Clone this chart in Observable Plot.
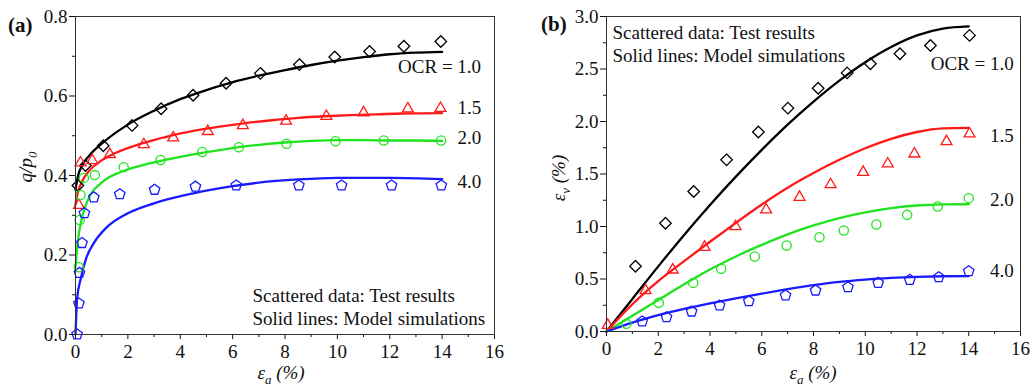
<!DOCTYPE html>
<html>
<head>
<meta charset="utf-8">
<script src="https://cdn.jsdelivr.net/npm/d3@7"></script>
<script src="https://cdn.jsdelivr.net/npm/@observablehq/plot@0.6"></script>
<style>
  body { margin: 0; background: #fff; font-family: "Liberation Serif", "Times New Roman", serif; }
  #wrap { display: flex; width: 1033px; height: 391px; overflow: hidden; }
</style>
</head>
<body>
<div id="wrap"></div>
<script>
// ---------- shared ticks ----------
const strainTicks = [0, 2, 4, 6, 8, 10, 12, 14, 16];
const strainMinor = [1, 3, 5, 7, 9, 11, 13, 15];
const qTicks = [0, 0.2, 0.4, 0.6, 0.8];
const qMinor = [0.1, 0.3, 0.5, 0.7];
const evTicks = [0, 0.5, 1.0, 1.5, 2.0, 2.5, 3.0];
const evMinor = [0.25, 0.75, 1.25, 1.75, 2.25, 2.75];
const ocrLabels = ["OCR = 1.0", "1.5", "2.0", "4.0"];

// ---------- (a) q/p0 vs axial strain: test results ----------
const aTest10X = [0.09, 0.38, 1.06, 2.16, 3.27, 4.49, 5.75, 7.06, 8.55, 9.9, 11.23, 12.54, 13.95];
const aTest10Y = [0.375, 0.425, 0.475, 0.526, 0.568, 0.602, 0.632, 0.657, 0.679, 0.698, 0.712, 0.725, 0.737];
const aTest15X = [0.13, 0.19, 0.64, 1.31, 2.61, 3.73, 5.05, 6.39, 8.04, 9.58, 11.0, 12.69, 13.94];
const aTest15Y = [0.325, 0.432, 0.438, 0.453, 0.478, 0.495, 0.511, 0.526, 0.537, 0.549, 0.558, 0.568, 0.569];
const aTest20X = [0.13, 0.16, 0.19, 0.32, 0.74, 1.84, 3.25, 4.84, 6.24, 8.06, 9.93, 11.77, 13.96];
const aTest20Y = [0.169, 0.288, 0.351, 0.394, 0.401, 0.421, 0.439, 0.459, 0.471, 0.48, 0.486, 0.488, 0.488];
const aTest40X = [0.06, 0.13, 0.15, 0.25, 0.34, 0.7, 1.69, 3.02, 4.58, 6.14, 8.53, 10.16, 12.07, 13.97];
const aTest40Y = [0.0, 0.078, 0.155, 0.23, 0.305, 0.345, 0.353, 0.364, 0.372, 0.375, 0.375, 0.375, 0.375, 0.375];

// ---------- (a) model simulations ----------
const aModel10X = [0, 0.1, 0.25, 0.5, 1, 2, 3, 4, 5, 6, 7, 8, 9, 10, 11, 12, 13, 14];
const aModel10Y = [0.365, 0.4, 0.425, 0.448, 0.48, 0.528, 0.563, 0.592, 0.615, 0.635, 0.651, 0.665, 0.678, 0.689, 0.698, 0.705, 0.709, 0.711];
const aModel15X = [0, 0.1, 0.25, 0.5, 1, 1.5, 2.5, 3.5, 4.5, 5.5, 6.5, 7.5, 8.5, 9.5, 10.5, 11.5, 12.5, 14];
const aModel15Y = [0.327, 0.36, 0.385, 0.41, 0.438, 0.456, 0.48, 0.498, 0.512, 0.523, 0.532, 0.539, 0.545, 0.549, 0.552, 0.554, 0.556, 0.557];
const aModel20X = [0, 0.1, 0.2, 0.45, 1, 1.7, 2.5, 3, 4, 5, 6, 7, 8, 9, 10, 11, 12, 13, 14];
const aModel20Y = [0.17, 0.24, 0.28, 0.335, 0.382, 0.408, 0.425, 0.433, 0.447, 0.459, 0.469, 0.477, 0.483, 0.487, 0.489, 0.489, 0.488, 0.488, 0.487];
const aModel40X = [0, 0.03, 0.06, 0.2, 0.4, 0.7, 1.2, 2, 3, 4.5, 6, 7, 8.5, 10, 12, 14];
const aModel40Y = [0, 0.05, 0.09, 0.14, 0.19, 0.23, 0.27, 0.305, 0.33, 0.355, 0.373, 0.382, 0.39, 0.394, 0.394, 0.391];

// ---------- (b) volumetric strain vs axial strain: test results ----------
const bTest10X = [1.12, 2.28, 3.37, 4.64, 5.87, 7.01, 8.18, 9.3, 10.2, 11.34, 12.52, 14.03];
const bTest10Y = [0.622, 1.031, 1.333, 1.635, 1.9, 2.127, 2.317, 2.463, 2.55, 2.645, 2.724, 2.82];
const bTest15X = [0.05, 1.51, 2.56, 3.79, 4.99, 6.17, 7.46, 8.66, 9.92, 10.87, 11.9, 13.14, 14.03];
const bTest15Y = [0.06, 0.39, 0.587, 0.803, 1.0, 1.159, 1.279, 1.4, 1.517, 1.597, 1.692, 1.81, 1.883];
const bTest20X = [0.77, 2.02, 3.35, 4.43, 5.73, 6.96, 8.23, 9.17, 10.43, 11.62, 12.8, 14.0];
const bTest20Y = [0.073, 0.273, 0.463, 0.597, 0.714, 0.819, 0.898, 0.962, 1.019, 1.111, 1.19, 1.27];
const bTest40X = [1.38, 2.32, 3.29, 4.37, 5.5, 6.92, 8.08, 9.33, 10.5, 11.72, 12.84, 14.0];
const bTest40Y = [0.095, 0.136, 0.19, 0.248, 0.289, 0.343, 0.39, 0.422, 0.463, 0.492, 0.517, 0.574];

// ---------- (b) model simulations ----------
const bModelX = [0, 1, 2, 3, 4, 5, 6, 7, 8, 9, 10, 11, 12, 13, 14];
const bModel10Y = [0, 0.31, 0.62, 0.92, 1.205, 1.475, 1.73, 1.97, 2.19, 2.39, 2.565, 2.71, 2.82, 2.885, 2.905];
const bModel15Y = [0, 0.26, 0.48, 0.67, 0.855, 1.035, 1.21, 1.37, 1.51, 1.635, 1.745, 1.835, 1.9, 1.935, 1.94];
const bModel20Y = [0, 0.15, 0.3, 0.45, 0.59, 0.715, 0.825, 0.925, 1.01, 1.08, 1.135, 1.175, 1.2, 1.21, 1.212];
const bModel40Y = [0, 0.085, 0.155, 0.215, 0.268, 0.316, 0.361, 0.403, 0.441, 0.473, 0.495, 0.51, 0.52, 0.526, 0.528];

// ---------- styling ----------
const serif = "'Liberation Serif', 'Times New Roman', serif";
const seriesColors = ["#000000", "#ff1a1a", "#1ee31e", "#1a1aff"];
// label nudges relative to the end of each model curve: [dx, dy]
const aLabelNudge = [[39, 15], [39, -5], [39, -3], [39, 3]];
const bLabelNudge = [[45, 37], [45, 8], [45, -4], [45, -5]];

// open pentagon, point up
const pentagon = {
  draw(context, size) {
    const r = Math.sqrt(size) * 0.62;
    for (let i = 0; i < 5; ++i) {
      const a = -Math.PI / 2 + (i * 2 * Math.PI) / 5;
      const px = r * Math.cos(a), py = r * Math.sin(a);
      if (i === 0) context.moveTo(px, py); else context.lineTo(px, py);
    }
    context.closePath();
  }
};
const symbols = ["diamond2", "triangle2", "circle", pentagon];
const dotRadius = [5.2, 5.2, 4.6, 5];

const rows = (xs, ys, k) => xs.map((x, i) => ({x, y: ys[i], k}));

function panel({width, margin, yDomain, yTicks, yMinor, tests, models, nudge, note}) {
  const marks = [];
  models.forEach(([xs, ys], k) => {
    marks.push(Plot.line(rows(xs, ys, k), {
      x: "x", y: "y", stroke: seriesColors[k], strokeWidth: 2.3, curve: "monotone-x"
    }));
  });
  tests.forEach(([xs, ys], k) => {
    marks.push(Plot.dot(rows(xs, ys, k), {
      x: "x", y: "y", symbol: symbols[k], r: dotRadius[k],
      stroke: seriesColors[k], strokeWidth: 1.3, fill: "none"
    }));
  });
  // OCR labels next to the end of each model curve
  models.forEach(([xs, ys], k) => {
    const end = [{x: xs[xs.length - 1], y: ys[ys.length - 1]}];
    marks.push(Plot.text(end, {
      x: "x", y: "y", text: () => ocrLabels[k], textAnchor: "end",
      dx: nudge[k][0], dy: nudge[k][1], fontSize: 19, fill: "#111"
    }));
  });
  marks.push(Plot.text([note.text], {
    frameAnchor: note.anchor, dx: note.dx, dy: note.dy, textAnchor: "start",
    lineAnchor: "middle", lineHeight: 1.2, fontSize: 19, fill: "#111"
  }));
  marks.push(Plot.axisX(strainTicks, {tickSize: 5, tickPadding: 5, label: null, tickFormat: d => String(d), fontSize: 19}));
  marks.push(Plot.axisX(strainMinor, {tickSize: 3, label: null, tickFormat: () => ""}));
  marks.push(Plot.axisY(yTicks, {tickSize: 6, tickPadding: 2, label: null, tickFormat: d3.format(".1f"), fontSize: 19}));
  marks.push(Plot.axisY(yMinor, {tickSize: 3, label: null, tickFormat: () => ""}));
  marks.push(Plot.frame({stroke: "#333", strokeWidth: 1}));

  return Plot.plot({
    width, height: 391,
    marginLeft: margin[0], marginRight: margin[1], marginTop: margin[2], marginBottom: margin[3],
    x: {domain: [0, 16]},
    y: {domain: yDomain},
    style: {fontFamily: serif, fontSize: "19px", background: "#fff", color: "#111", overflow: "visible"},
    marks
  });
}

// axis titles with italic symbols and subscripts
function addTitle(svg, {x, y, rotate = 0, base, sub, tail}) {
  const t = d3.select(svg).append("text")
    .attr("transform", `translate(${x},${y}) rotate(${rotate})`)
    .attr("text-anchor", "middle")
    .attr("font-family", serif)
    .attr("font-style", "italic")
    .attr("font-size", 19)
    .attr("fill", "#111");
  t.append("tspan").text(base);
  t.append("tspan").attr("dy", 5).attr("font-size", 13).text(sub);
  t.append("tspan").attr("dy", -5).text(tail);
}
function addPanelTag(svg, x, y, tag) {
  d3.select(svg).append("text")
    .attr("x", x).attr("y", y)
    .attr("text-anchor", "start")
    .attr("font-family", serif).attr("font-weight", "bold")
    .attr("font-size", 21).attr("fill", "#111")
    .text(tag);
}

const chartA = panel({
  width: 516, margin: [75, 22, 16, 57],
  yDomain: [0, 0.8], yTicks: qTicks, yMinor: qMinor,
  tests: [[aTest10X, aTest10Y], [aTest15X, aTest15Y], [aTest20X, aTest20Y], [aTest40X, aTest40Y]],
  models: [[aModel10X, aModel10Y], [aModel15X, aModel15Y], [aModel20X, aModel20Y], [aModel40X, aModel40Y]],
  nudge: aLabelNudge,
  note: {text: "Scattered data: Test results\nSolid lines: Model simulations", anchor: "bottom-left", dx: 177, dy: -28}
});
const chartB = panel({
  width: 517, margin: [90, 13, 16, 60],
  yDomain: [0, 3], yTicks: evTicks, yMinor: evMinor,
  tests: [[bTest10X, bTest10Y], [bTest15X, bTest15Y], [bTest20X, bTest20Y], [bTest40X, bTest40Y]],
  models: [[bModelX, bModel10Y], [bModelX, bModel15Y], [bModelX, bModel20Y], [bModelX, bModel40Y]],
  nudge: bLabelNudge,
  note: {text: "Scattered data: Test results\nSolid lines: Model simulations", anchor: "top-left", dx: 6, dy: 27}
});

addTitle(chartA, {x: 32, y: 167, rotate: -90, base: "q/p", sub: "0", tail: ""});
addTitle(chartA, {x: 281, y: 379, base: "ε", sub: "a", tail: " (%)"});
addPanelTag(chartA, 8, 32, "(a)");
addTitle(chartB, {x: 49, y: 178, rotate: -90, base: "ε", sub: "v", tail: " (%)"});
addTitle(chartB, {x: 297, y: 379, base: "ε", sub: "a", tail: " (%)"});
addPanelTag(chartB, 25, 31, "(b)");

document.getElementById("wrap").append(chartA, chartB);
</script>
</body>
</html>
